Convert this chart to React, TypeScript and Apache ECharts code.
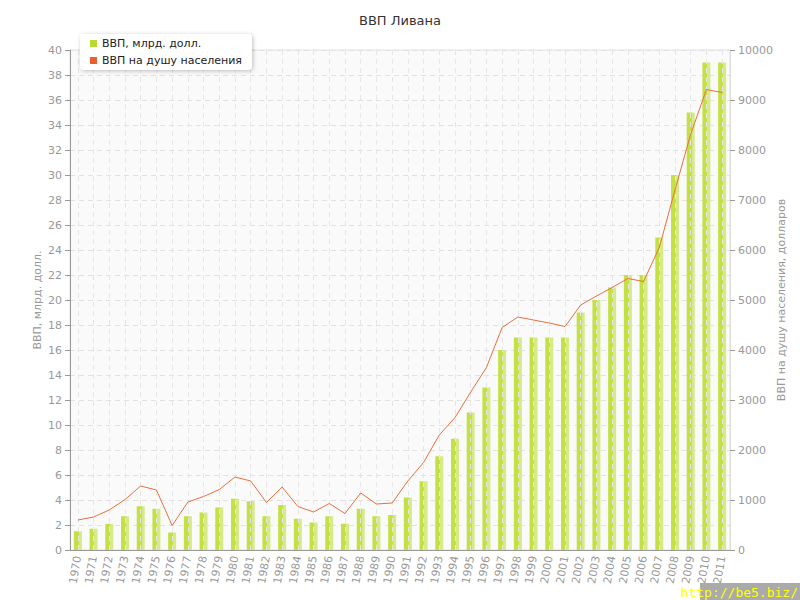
import React, { useEffect, useRef } from "react";
import * as echarts from "echarts";

const years = [
  "1970","1971","1972","1973","1974","1975","1976","1977","1978","1979",
  "1980","1981","1982","1983","1984","1985","1986","1987","1988","1989",
  "1990","1991","1992","1993","1994","1995","1996","1997","1998","1999",
  "2000","2001","2002","2003","2004","2005","2006","2007","2008","2009",
  "2010","2011",
];
const gdp = [
  1.5, 1.7, 2.1, 2.7, 3.5, 3.3, 1.4, 2.7, 3.0, 3.4,
  4.1, 3.9, 2.7, 3.6, 2.5, 2.2, 2.7, 2.1, 3.3, 2.7,
  2.8, 4.2, 5.5, 7.5, 8.9, 11, 13, 16, 17, 17,
  17, 17, 19, 20, 21, 22, 22, 25, 30, 35,
  39, 39,
];
const gdpPerCapita = [
  600, 660, 800, 1010, 1280, 1200, 490, 960, 1070, 1210,
  1460, 1380, 950, 1260, 870, 760, 930, 730, 1140, 920,
  940, 1380, 1750, 2300, 2650, 3160, 3650, 4450, 4660, 4600,
  4540, 4470, 4900, 5080, 5250, 5430, 5370, 6050, 7200, 8320,
  9210, 9150,
];

const FONT = "DejaVu Sans";
const NAME_GDP = "ВВП, млрд. долл.";
const NAME_PC = "ВВП на душу населения";

export default function App() {
  const ref = useRef<HTMLDivElement>(null);
  useEffect(() => {
    if (!ref.current) return;
    const chart = echarts.init(ref.current, undefined, { renderer: "svg" });
    chart.setOption({
      animation: false,
      textStyle: { fontFamily: FONT },
      title: {
        text: "ВВП Ливана",
        left: "center",
        top: 9,
        textStyle: { fontFamily: FONT, fontSize: 13, fontWeight: "normal", color: "#333" },
      },
      legend: {
        orient: "vertical",
        left: 80,
        top: 34,
        z: 30,
        padding: [4, 10, 4, 10],
        itemWidth: 7,
        itemHeight: 7,
        itemGap: 6,
        backgroundColor: "#fff",
        borderRadius: 4,
        shadowBlur: 4,
        shadowColor: "rgba(0,0,0,0.25)",
        shadowOffsetX: 1,
        shadowOffsetY: 1,
        selectedMode: false,
        textStyle: { fontFamily: FONT, fontSize: 11, color: "#222" },
        data: [
          { name: NAME_GDP, icon: "rect", itemStyle: { color: "#b8d832", opacity: 1 } },
          { name: NAME_PC, icon: "rect", itemStyle: { color: "#e8602c", opacity: 1 } },
        ],
      },
      grid: {
        left: 70,
        right: 70,
        top: 50,
        bottom: 50,
        outerBoundsMode: "none",
        containLabel: false,
        show: true,
        backgroundColor: "#fafafa",
        borderColor: "#e2e2e2",
        borderWidth: 1,
      },
      xAxis: {
        type: "category",
        data: years,
        z: 10,
        axisLine: { lineStyle: { color: "#999" } },
        axisTick: { alignWithLabel: true, length: 4, lineStyle: { color: "#999" } },
        axisLabel: { rotate: 80, color: "#999", fontSize: 11, fontFamily: FONT, margin: 6 },
        splitLine: {
          show: true,
          alignWithLabel: true,
          lineStyle: { color: "#e6e6e6", type: [5, 4], width: 1 },
        },
      },
      yAxis: [
        {
          type: "value",
          min: 0,
          max: 40,
          interval: 2,
          name: "ВВП, млрд. долл.",
          nameLocation: "middle",
          nameGap: 27,
          nameMoveOverlap: false,
          nameTextStyle: { color: "#999", fontSize: 11, fontFamily: FONT },
          axisLine: { show: true, lineStyle: { color: "#999" } },
          axisTick: { show: true, length: 5, lineStyle: { color: "#999" } },
          axisLabel: { color: "#999", fontSize: 11, fontFamily: FONT, margin: 8 },
          splitLine: { show: true, lineStyle: { color: "#e2e2e2", type: [5, 4] } },
        },
        {
          type: "value",
          min: 0,
          max: 10000,
          interval: 1000,
          name: "ВВП на душу населения, долларов",
          nameLocation: "middle",
          nameGap: 46,
          nameMoveOverlap: false,
          nameRotate: 90,
          nameTextStyle: { color: "#999", fontSize: 11, fontFamily: FONT },
          axisLine: { show: true, lineStyle: { color: "#ddd" } },
          axisTick: { show: true, length: 5, lineStyle: { color: "#999" } },
          axisLabel: {
            color: "#999",
            fontSize: 11,
            fontFamily: FONT,
            margin: 8,
            formatter: (v: number) => String(v),
          },
          splitLine: { show: false },
        },
      ],
      series: [
        {
          name: NAME_GDP,
          type: "bar",
          data: gdp,
          yAxisIndex: 0,
          barWidth: 8,
          itemStyle: {
            color: new echarts.graphic.LinearGradient(0, 0, 1, 0, [
              { offset: 0, color: "#c4e044" },
              { offset: 0.6, color: "#c4e044" },
              { offset: 0.61, color: "#d6ea88" },
              { offset: 1, color: "#d6ea88" },
            ]),
          },
        },
        {
          name: NAME_PC,
          type: "scatter",
          data: [],
          yAxisIndex: 1,
          itemStyle: { color: "#e8602c", opacity: 1 },
        },
        {
          name: "per-capita-line",
          type: "line",
          data: gdpPerCapita,
          yAxisIndex: 1,
          symbol: "none",
          lineStyle: { color: "#e8703e", width: 1 },
          itemStyle: { color: "#e8602c" },
          z: 12,
        },
      ],
      graphic: [
        {
          type: "rect",
          right: 0,
          bottom: 0,
          shape: { width: 100, height: 17 },
          style: { fill: "#aaaaaa" },
          z: 100,
        },
        {
          type: "text",
          right: 2,
          bottom: 1,
          style: {
            text: "http://be5.biz/",
            fill: "#ffff00",
            font: "13px 'DejaVu Sans Mono'",
          },
          z: 101,
        },
      ],
    });
    return () => chart.dispose();
  }, []);
  return <div ref={ref} style={{ width: 800, height: 600, position: "absolute", left: 0, top: 0 }} />;
}
